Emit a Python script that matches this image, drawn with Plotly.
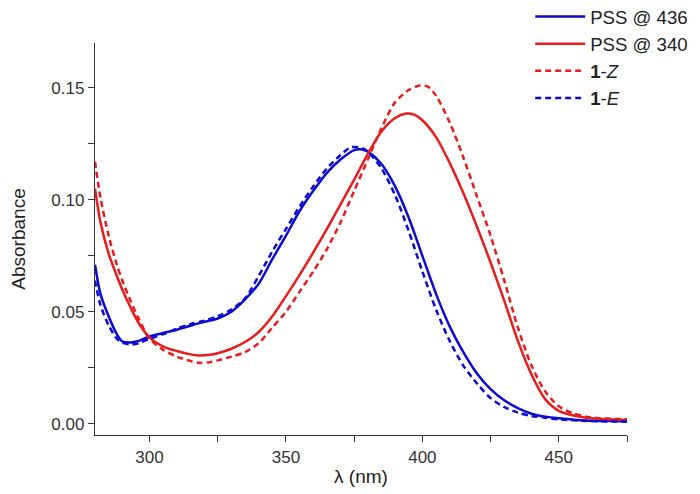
import plotly.graph_objects as go

# ---- data ----
wl_pss436 = [280, 282, 285, 288, 290, 293, 296, 300, 305, 310, 315, 320, 325, 330, 335, 340, 345, 350, 355, 360,
             365, 370, 375, 378, 380, 385, 390, 395, 400, 405, 410, 415, 420, 425, 430, 435, 440, 445, 450, 460, 470, 475]
abs_pss436 = [0.071, 0.058, 0.048, 0.040, 0.0368, 0.0363, 0.037, 0.039, 0.0405, 0.042, 0.0438, 0.0455, 0.047, 0.050, 0.0555,
              0.0625, 0.0735, 0.084, 0.095, 0.104, 0.112, 0.118, 0.1222, 0.1225, 0.1215, 0.116, 0.106, 0.092, 0.075, 0.058,
              0.0435, 0.032, 0.0225, 0.0155, 0.0105, 0.007, 0.0045, 0.0032, 0.0025, 0.0015, 0.0012, 0.001]

wl_pss340 = [280, 282, 285, 288, 290, 293, 296, 300, 305, 310, 315, 318, 322, 325, 330, 335, 340, 345, 350, 355, 360,
             365, 370, 375, 380, 385, 390, 394, 397, 400, 405, 410, 415, 420, 425, 430, 435, 440, 445, 450, 455, 460,
             465, 470, 475]
abs_pss340 = [0.105, 0.090, 0.076, 0.066, 0.060, 0.052, 0.045, 0.0385, 0.0345, 0.0325, 0.031, 0.0305, 0.0308, 0.0315,
              0.0335, 0.0365, 0.041, 0.048, 0.057, 0.0665, 0.0765, 0.087, 0.098, 0.109, 0.1205, 0.1305, 0.1365, 0.1385,
              0.138, 0.1355, 0.128, 0.1165, 0.103, 0.088, 0.072, 0.055, 0.037, 0.022, 0.011, 0.0058, 0.0038, 0.0027,
              0.0022, 0.0019, 0.0017]

wl_1z = [280, 282, 285, 288, 290, 293, 296, 300, 305, 310, 315, 318, 322, 325, 330, 335, 340, 345, 350, 355, 360,
         365, 370, 375, 380, 385, 390, 395, 399, 402, 405, 410, 415, 420, 425, 430, 435, 440, 445, 450, 455, 460,
         465, 470, 475]
abs_1z = [0.117, 0.101, 0.084, 0.071, 0.064, 0.055, 0.047, 0.038, 0.033, 0.030, 0.028, 0.0272, 0.0275, 0.0283, 0.030,
          0.032, 0.036, 0.043, 0.050, 0.059, 0.068, 0.078, 0.090, 0.104, 0.118, 0.132, 0.1435, 0.149, 0.151, 0.1505,
          0.1465, 0.1345, 0.119, 0.1015, 0.084, 0.064, 0.043, 0.026, 0.0145, 0.0078, 0.0048, 0.0032, 0.0025, 0.0022,
          0.002]

wl_1e = [280, 282, 285, 288, 290, 293, 296, 300, 305, 310, 315, 320, 325, 330, 335, 340, 345, 350, 355, 360, 365,
         370, 374, 378, 380, 385, 390, 395, 400, 405, 410, 415, 420, 425, 430, 435, 440, 445, 450, 460, 470, 475]
abs_1e = [0.064, 0.053, 0.044, 0.038, 0.0362, 0.0355, 0.036, 0.038, 0.040, 0.0425, 0.0445, 0.046, 0.048, 0.051, 0.056,
          0.066, 0.077, 0.087, 0.097, 0.106, 0.114, 0.120, 0.1235, 0.123, 0.1215, 0.114, 0.102, 0.086, 0.068, 0.051,
          0.037, 0.026, 0.018, 0.0115, 0.0075, 0.005, 0.0035, 0.0027, 0.002, 0.0013, 0.001, 0.001]

x_ticks = [300, 350, 400, 450]
y_ticks = [0.00, 0.05, 0.10, 0.15]

BLUE = "rgb(10,10,210)"
RED = "rgb(232,28,28)"
FONT = "Liberation Sans, Arial, sans-serif"

fig = go.Figure()
fig.add_trace(go.Scatter(x=wl_pss436, y=abs_pss436, mode="lines", name="PSS @ 436",
                         line=dict(color=BLUE, width=2.5, shape="spline", smoothing=0.8)))
fig.add_trace(go.Scatter(x=wl_pss340, y=abs_pss340, mode="lines", name="PSS @ 340",
                         line=dict(color=RED, width=2.5, shape="spline", smoothing=0.8)))
fig.add_trace(go.Scatter(x=wl_1z, y=abs_1z, mode="lines", name="<b>1</b>-<i>Z</i>",
                         line=dict(color=RED, width=2.5, dash="6px,4px", shape="spline", smoothing=0.8)))
fig.add_trace(go.Scatter(x=wl_1e, y=abs_1e, mode="lines", name="<b>1</b>-<i>E</i>",
                         line=dict(color=BLUE, width=2.5, dash="6px,4px", shape="spline", smoothing=0.8)))

axis_common = dict(showline=True, linecolor="#333", linewidth=1.3, ticks="outside", ticklen=6,
                   tickcolor="#333", tickwidth=1.3, showgrid=False, zeroline=False, automargin=False,
                   tickfont=dict(family=FONT, size=17, color="#333"),
                   title_font=dict(family=FONT, size=19, color="#222"))

fig.update_xaxes(range=[280, 475], tickvals=x_ticks, ticktext=[str(v) for v in x_ticks],
                 minor=dict(dtick=25, tick0=275, ticks="outside", ticklen=6, tickcolor="#333", tickwidth=1.3),
                 title_text="λ (nm)", title_standoff=4, **axis_common)
fig.update_yaxes(range=[-0.005, 0.170], tickvals=y_ticks, ticktext=[f"{v:.2f}" for v in y_ticks],
                 minor=dict(dtick=0.025, tick0=0, ticks="outside", ticklen=6, tickcolor="#333", tickwidth=1.3),
                 title_text="Absorbance", title_standoff=30, **axis_common)

# the page body adds an 8px offset; margins compensate so the plot area lands at x 95-627, y 43-435
fig.update_layout(
    width=700, height=494,
    margin=dict(l=87, r=81, t=35, b=67, autoexpand=False),
    paper_bgcolor="white", plot_bgcolor="white",
    font=dict(family=FONT, color="#222"),
    showlegend=True,
    legend=dict(xref="container", yref="paper", x=0.746, y=1.115, xanchor="left", yanchor="top",
                bgcolor="rgba(0,0,0,0)",
                font=dict(family=FONT, size=18.6, color="#222"), itemwidth=50, tracegroupgap=0),
)

fig.write_html("out.html")
